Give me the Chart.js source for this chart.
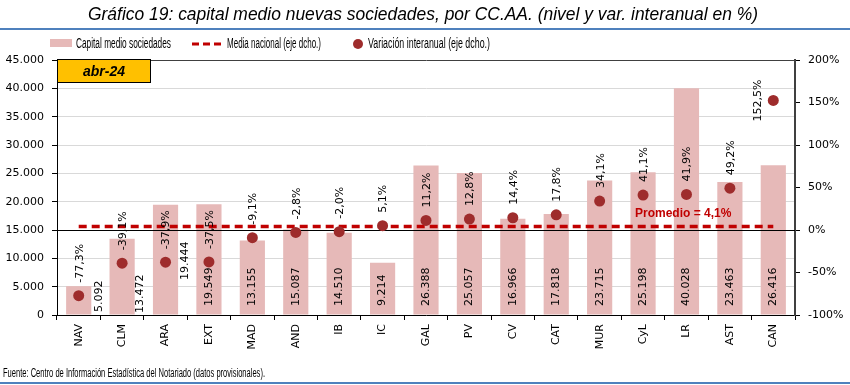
<!DOCTYPE html>
<html>
<head>
<meta charset="utf-8">
<script src="https://cdn.jsdelivr.net/npm/chart.js@4.4.1/dist/chart.umd.min.js"></script>
<style>
  html, body { margin: 0; padding: 0; background: #fff; }
</style>
</head>
<body>
<canvas id="chart" width="850" height="385"></canvas>
<script>
// datos (abr-24)
const regiones = ['NAV', 'CLM', 'ARA', 'EXT', 'MAD', 'AND', 'IB', 'IC', 'GAL', 'PV', 'CV', 'CAT', 'MUR', 'CyL', 'LR', 'AST', 'CAN'];
const capitalMedio = [5092, 13472, 19444, 19549, 13155, 15087, 14510, 9214, 26388, 25057, 16966, 17818, 23715, 25198, 40028, 23463, 26416];
const variacion = [-77.3, -39.1, -37.9, -37.5, -9.1, -2.8, -2.0, 5.1, 11.2, 12.8, 14.4, 17.8, 34.1, 41.1, 41.9, 49.2, 152.5];
const mediaNacional = 4.1;
const mediaSerie = regiones.map(() => mediaNacional);

const titulo = 'Gráfico 19: capital medio nuevas sociedades, por CC.AA. (nivel y var. interanual en %)';
const fuente = 'Fuente: Centro de Información Estadística del Notariado (datos provisionales).';
const periodo = 'abr-24';

const ROSA = '#E6B9B8';
const ROJO = '#C00000';
const GRANATE = '#9E2C2C';
const AZUL = '#4F81BD';

function miles(v) {
  return String(Math.round(v)).replace(/\B(?=(\d{3})+(?!\d))/g, '.');
}
function pct(v) {
  return v.toFixed(1).replace('.', ',') + '%';
}

// desplazamientos manuales de etiquetas (como en el original)
const despBarra = { 0: { dx: 20, bottom: 312 }, 1: { dx: 18, bottom: 313 }, 2: { dx: 20, bottom: 280 } };
const despPct = { 16: { dx: -15, dy: 21 } };

Chart.defaults.font.family = 'DejaVu Sans';
Chart.defaults.font.size = 11;
Chart.defaults.color = '#000';

const decoracion = {
  id: 'decoracion',
  beforeDraw(chart) {
    const ctx = chart.ctx;
    ctx.save();
    ctx.fillStyle = '#fff';
    ctx.fillRect(0, 0, chart.width, chart.height);
    ctx.restore();
  },
  afterDatasetDraw(chart, args) {
    if (args.index !== 0) return;
    // linea del cero del eje derecho, por encima de las barras
    const ctx = chart.ctx;
    const y = Math.round(chart.scales.y2.getPixelForValue(0)) + 0.5;
    ctx.save();
    ctx.strokeStyle = '#000';
    ctx.lineWidth = 1;
    ctx.beginPath();
    ctx.moveTo(chart.chartArea.left, y);
    ctx.lineTo(chart.chartArea.right, y);
    ctx.stroke();
    ctx.restore();
  },
  afterDraw(chart) {
    const ctx = chart.ctx;
    const area = chart.chartArea;
    ctx.save();

    // titulo
    ctx.fillStyle = '#000';
    ctx.font = 'italic 18px "Liberation Sans Narrow", "Liberation Sans", sans-serif';
    ctx.textAlign = 'center';
    ctx.textBaseline = 'middle';
    ctx.fillText(titulo, 423, 15, 670);

    // lineas azules
    ctx.strokeStyle = AZUL;
    ctx.lineWidth = 2;
    ctx.beginPath();
    ctx.moveTo(0, 29); ctx.lineTo(850, 29);
    ctx.moveTo(0, 383); ctx.lineTo(850, 383);
    ctx.stroke();

    // leyenda
    ctx.font = '14px "Liberation Sans Narrow", "Liberation Sans", sans-serif';
    ctx.textAlign = 'left';
    ctx.fillStyle = ROSA;
    ctx.fillRect(50, 39, 22, 8);
    ctx.fillStyle = '#000';
    ctx.fillText('Capital medio sociedades', 76, 44, 95);
    ctx.strokeStyle = ROJO;
    ctx.lineWidth = 3;
    ctx.setLineDash([7, 4]);
    ctx.beginPath();
    ctx.moveTo(192, 44); ctx.lineTo(223, 44);
    ctx.stroke();
    ctx.setLineDash([]);
    ctx.fillText('Media nacional (eje dcho.)', 227, 44, 94);
    ctx.fillStyle = GRANATE;
    ctx.beginPath();
    ctx.arc(358, 44, 5, 0, Math.PI * 2);
    ctx.fill();
    ctx.fillStyle = '#000';
    ctx.fillText('Variación interanual (eje dcho.)', 368, 44, 122);

    // recuadro del periodo
    ctx.fillStyle = '#FFC000';
    ctx.fillRect(57, 59, 94, 24);
    ctx.strokeStyle = '#000';
    ctx.lineWidth = 1;
    ctx.strokeRect(57.5, 59.5, 93, 23);
    ctx.fillStyle = '#000';
    ctx.font = 'bold italic 14px "Liberation Sans", sans-serif';
    ctx.textAlign = 'center';
    ctx.fillText(periodo, 104, 72);

    // etiquetas de las barras
    ctx.font = '11px "DejaVu Sans", sans-serif';
    ctx.textAlign = 'left';
    ctx.textBaseline = 'middle';
    chart.getDatasetMeta(0).data.forEach((bar, i) => {
      const d = despBarra[i] || { dx: 0, bottom: area.bottom - 9 };
      ctx.save();
      ctx.translate(bar.x + d.dx, d.bottom);
      ctx.rotate(-Math.PI / 2);
      ctx.fillText(miles(capitalMedio[i]), 0, 0);
      ctx.restore();
    });

    // etiquetas de la variacion
    chart.getDatasetMeta(2).data.forEach((pt, i) => {
      const d = despPct[i] || { dx: 1, dy: -13 };
      ctx.save();
      ctx.translate(pt.x + d.dx, pt.y + d.dy);
      ctx.rotate(-Math.PI / 2);
      ctx.fillText(pct(variacion[i]), 0, 0);
      ctx.restore();
    });

    // promedio
    ctx.fillStyle = ROJO;
    ctx.font = 'bold 12px "Liberation Sans", sans-serif';
    ctx.textAlign = 'left';
    ctx.fillText('Promedio = ' + pct(mediaNacional), 635, 214, 100);

    // fuente
    ctx.fillStyle = '#000';
    ctx.font = '12px "Liberation Sans Narrow", "Liberation Sans", sans-serif';
    ctx.fillText(fuente, 3, 374, 262);

    ctx.restore();
  }
};

new Chart(document.getElementById('chart'), {
  type: 'bar',
  data: {
    labels: regiones,
    datasets: [
      {
        type: 'bar',
        label: 'Capital medio sociedades',
        data: capitalMedio,
        backgroundColor: ROSA,
        yAxisID: 'y',
        barPercentage: 0.58,
        categoryPercentage: 1,
        order: 2
      },
      {
        type: 'line',
        label: 'Media nacional (eje dcho.)',
        data: mediaSerie,
        borderColor: ROJO,
        borderWidth: 3.5,
        borderDash: [8, 5],
        pointRadius: 0,
        fill: false,
        yAxisID: 'y2',
        order: 1
      },
      {
        type: 'line',
        label: 'Variación interanual (eje dcho.)',
        data: variacion,
        showLine: false,
        pointRadius: 5.5,
        pointBackgroundColor: GRANATE,
        pointBorderWidth: 0,
        yAxisID: 'y2',
        order: 0
      }
    ]
  },
  options: {
    responsive: false,
    animation: false,
    devicePixelRatio: 1,
    layout: { padding: { top: 60, left: 0, right: 0, bottom: 0 } },
    plugins: {
      legend: { display: false },
      title: { display: false },
      tooltip: { enabled: false }
    },
    scales: {
      x: {
        grid: { drawOnChartArea: false, tickLength: 5, tickColor: '#000', offset: true },
        border: { color: '#000' },
        ticks: { minRotation: 90, maxRotation: 90, padding: 4, autoSkip: false },
        afterFit: (scale) => { scale.height = 70; }
      },
      y: {
        position: 'left',
        min: 0,
        max: 45000,
        ticks: { stepSize: 5000, padding: 8, callback: (v) => miles(v) },
        grid: {
          color: (c) => c.tick && c.tick.value === 45000 ? '#404040' : '#D9D9D9',
          tickColor: '#000',
          tickLength: 5
        },
        border: { color: '#000' },
        afterFit: (scale) => { scale.width = 57; }
      },
      y2: {
        position: 'right',
        min: -100,
        max: 200,
        ticks: { stepSize: 50, padding: 8, callback: (v) => v + '%' },
        grid: { drawOnChartArea: false, tickColor: '#000', tickLength: 5 },
        border: { color: '#404040', width: 2 },
        afterFit: (scale) => { scale.width = 55; }
      }
    }
  },
  plugins: [decoracion]
});
</script>
</body>
</html>
